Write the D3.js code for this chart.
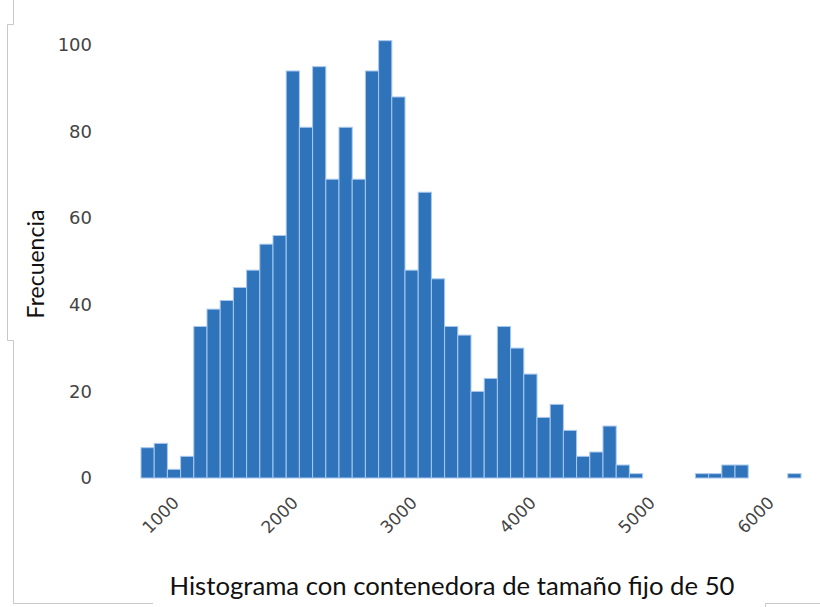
<!DOCTYPE html>
<html>
<head>
<meta charset="utf-8">
<script src="https://cdn.jsdelivr.net/npm/d3@7"></script>
<style>
  html, body { margin: 0; padding: 0; background: #ffffff; }
  svg { display: block; }
</style>
</head>
<body>
<svg id="chart" width="820" height="607"></svg>
<script>
// Histogram: 50 equal-width bins
const binStart = 840;
const binEnd = 6385;
const binCount = 50;
const counts = [7, 8, 2, 5, 35, 39, 41, 44, 48, 54,
                56, 94, 81, 95, 69, 81, 69, 94, 101, 88,
                48, 66, 46, 35, 33, 20, 23, 35, 30, 24,
                14, 17, 11, 5, 6, 12, 3, 1, 0, 0,
                0, 0, 1, 1, 3, 3, 0, 0, 0, 1];
const xTicks = [1000, 2000, 3000, 4000, 5000, 6000];
const yTicks = [0, 20, 40, 60, 80, 100];
const yLabel = "Frecuencia";
const title = "Histograma con contenedora de tamaño fijo de 50";

const svg = d3.select("#chart");
const binWidth = (binEnd - binStart) / binCount;
const bins = counts.map((c, i) => ({ x0: binStart + i * binWidth, x1: binStart + (i + 1) * binWidth, count: c }));

const x = d3.scaleLinear().domain([binStart, binEnd]).range([141, 801]);
const y = d3.scaleLinear().domain([0, 100]).range([478, 45]);

// frame lines around the figure
const frame = svg.append("g").attr("fill", "none").attr("stroke", "#c8c8c8").attr("stroke-width", 1);
frame.append("path").attr("d", "M13.5,0 V24.5 H7.5 V340.5 H13.5 V603.5 H153");
frame.append("path").attr("d", "M765.5,607 V603.5 H820");

// bars
svg.append("g")
  .selectAll("rect")
  .data(bins.filter(d => d.count > 0))
  .join("rect")
  .attr("x", d => x(d.x0))
  .attr("width", d => x(d.x1) - x(d.x0))
  .attr("y", d => y(d.count))
  .attr("height", d => y(0) - y(d.count))
  .attr("fill", "#2f74ba")
  .attr("stroke", "#a8c8ee")
  .attr("stroke-width", 1);

// y axis (labels only)
const yAxis = svg.append("g")
  .attr("transform", "translate(100,0)")
  .call(d3.axisLeft(y).tickValues(yTicks).tickSize(0).tickPadding(8));
yAxis.select(".domain").remove();
yAxis.selectAll("text")
  .attr("font-family", "DejaVu Sans, sans-serif")
  .attr("font-size", 18)
  .attr("fill", "#444");

// x axis (rotated labels only)
const xAxis = svg.append("g")
  .attr("transform", "translate(0,478)")
  .call(d3.axisBottom(x).tickValues(xTicks).tickSize(0).tickFormat(d3.format("d")));
xAxis.select(".domain").remove();
xAxis.selectAll("text")
  .attr("font-family", "DejaVu Sans, sans-serif")
  .attr("font-size", 17)
  .attr("fill", "#444")
  .attr("text-anchor", "middle")
  .attr("dy", null)
  .attr("y", 0)
  .attr("transform", "translate(0,37) rotate(-45)")
  .attr("dominant-baseline", "central");

// axis title
svg.append("text")
  .attr("transform", "translate(35,264) rotate(-90)")
  .attr("text-anchor", "middle")
  .attr("dominant-baseline", "central")
  .attr("font-family", "Lato, sans-serif")
  .attr("font-size", 23)
  .attr("fill", "#111")
  .text(yLabel);

svg.append("text")
  .attr("x", 452)
  .attr("y", 595)
  .attr("text-anchor", "middle")
  .attr("font-family", "Lato, sans-serif")
  .attr("font-size", 25)
  .attr("fill", "#111")
  .attr("textLength", 565)
  .attr("lengthAdjust", "spacingAndGlyphs")
  .text(title);
</script>
</body>
</html>
